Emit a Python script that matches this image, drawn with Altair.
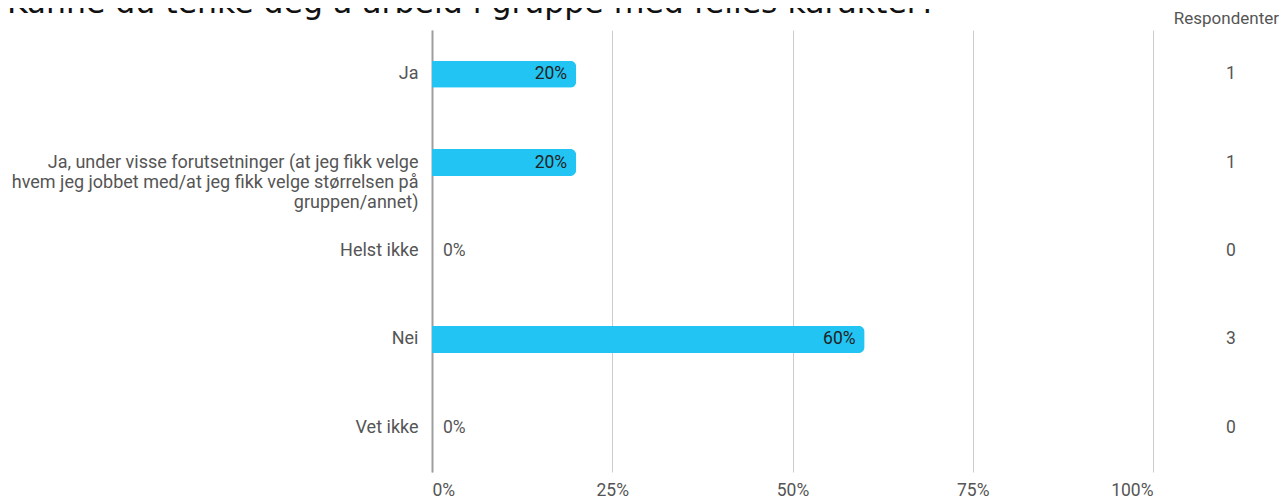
import altair as alt
import pandas as pd

title_text = "Kunne du tenke deg å arbeid i gruppe med felles karakter?"
categories = [
    "Ja",
    "Ja, under visse forutsetninger (at jeg fikk velge\nhvem jeg jobbet med/at jeg fikk velge størrelsen på\ngruppen/annet)",
    "Helst ikke",
    "Nei",
    "Vet ikke",
]
percent = [20, 20, 0, 60, 0]
respondents = [1, 1, 0, 3, 0]
x_ticks = [0, 25, 50, 75, 100]
count_header = "Respondenter"

df = pd.DataFrame({"cat": categories, "pct": percent, "n": respondents})

FONT = "Roboto"
GRAY = "#555555"

y_enc = alt.Y(
    "cat:N",
    sort=categories,
    title=None,
    scale=alt.Scale(paddingInner=0.1, paddingOuter=0.05),
    axis=alt.Axis(
        domain=True,
        domainColor="#9e9e9e",
        domainWidth=2,
        ticks=False,
        grid=False,
        labelPadding=14,
        labelLimit=600,
        labelAlign="right",
        labelColor=GRAY,
        labelFont=FONT,
        labelFontSize=18,
        labelLineHeight=20,
        labelExpr="split(datum.label, '\\n')",
    ),
)
x_enc = alt.X(
    "pct:Q",
    title=None,
    scale=alt.Scale(domain=[0, 100], nice=False, zero=True),
    axis=alt.Axis(
        values=x_ticks,
        labelExpr="datum.value + '%'",
        grid=True,
        gridColor="#cccccc",
        gridWidth=1,
        domain=False,
        ticks=False,
        labelFlush=True,
        labelPadding=9,
        labelFontSize=17.5,
        labelColor=GRAY,
        labelFont=FONT,
    ),
)

base = alt.Chart(df).transform_calculate(lbl="datum.pct + '%'")

bars = base.transform_filter("datum.pct > 0").mark_bar(
    color="#21C4F3", size=27, cornerRadiusEnd=6
).encode(x=x_enc, y=y_enc)

inside = base.transform_filter("datum.pct > 0").mark_text(
    align="right", dx=-9, color="#222222", font=FONT, fontSize=17.5
).encode(x="pct:Q", y=alt.Y("cat:N", sort=categories), text="lbl:N")

zero = base.transform_filter("datum.pct == 0").mark_text(
    align="left", dx=11, color=GRAY, font=FONT, fontSize=17.5
).encode(x="pct:Q", y=alt.Y("cat:N", sort=categories), text="lbl:N")

counts = base.mark_text(
    align="center", color=GRAY, font=FONT, fontSize=17.5
).encode(x=alt.value(799), y=alt.Y("cat:N", sort=categories), text="n:Q")

header = alt.Chart(pd.DataFrame({"t": [count_header]})).mark_text(
    align="right", baseline="alphabetic", color=GRAY, font=FONT, fontSize=17
).encode(x=alt.value(847), y=alt.value(-6), text="t:N")

title = alt.Chart(pd.DataFrame({"t": [title_text]})).mark_text(
    align="left", baseline="alphabetic", color="#111111", font="DejaVu Sans", fontSize=31.5
).encode(x=alt.value(-425), y=alt.value(-17), text="t:N")

chart = (
    alt.layer(bars, inside, zero, counts, header, title)
    .properties(
        width=721,
        height=442,
        autosize=alt.AutoSizeParams(type="none"),
        padding={"left": 424, "top": 22, "right": 127, "bottom": 26},
        background="white",
    )
    .configure_view(strokeWidth=0)
)

chart.save("out.html", embed_options={"renderer": "svg", "actions": False})
